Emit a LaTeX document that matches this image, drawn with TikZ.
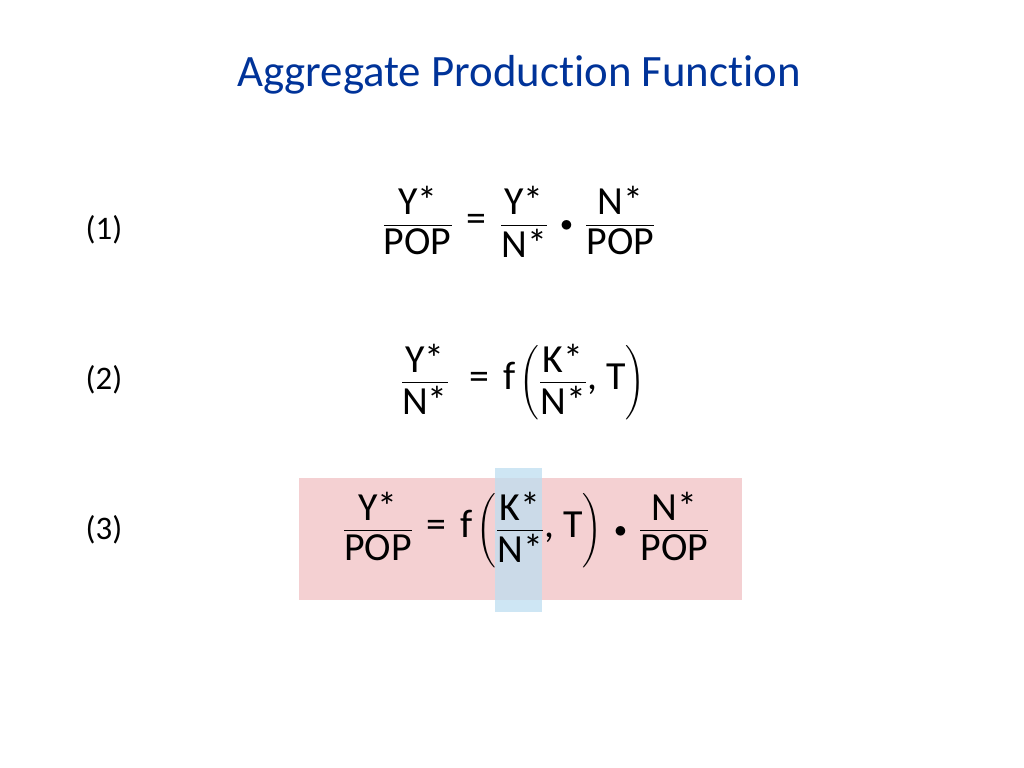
\documentclass[tikz,border=0pt]{standalone}
\usepackage{amsmath}
\usepackage{fontspec}
\setmainfont[Ligatures=NoCommon]{Carlito}
\definecolor{titleblue}{RGB}{0,51,153}
\definecolor{hlpink}{RGB}{244,208,210}
\definecolor{hlblue}{RGB}{190,222,240}
\tikzset{
  eqn/.style={font=\fontsize{40}{46}\selectfont, inner sep=0pt},
  num/.style={font=\fontsize{33}{38}\selectfont, inner sep=0pt}
}
\newcommand\fr[2]{\dfrac{\text{#1}}{\text{#2}}}
\begin{document}
\begin{tikzpicture}[x=1bp,y=-1bp]
  \useasboundingbox (0,0) rectangle (1024,768);
  \node[font=\fontsize{45}{52}\selectfont, text=titleblue] (title) at (519,75) {Aggregate Production Function};
  % highlight boxes
  \fill[hlpink] (299,478) rectangle (742,600);
  \fill[hlblue, fill opacity=0.75] (495,468) rectangle (542,612);
  % labels
  \node[num] (l1) at (104,230) {(1)};
  \node[num] (l2) at (104,380) {(2)};
  \node[num] (l3) at (104,530) {(3)};
  % equations
  \node[eqn] (e1) at (519,222) {$\fr{Y*}{POP} \;\;\text{=}\;\; \fr{Y*}{N*}\;\bullet\;\fr{N*}{POP}$};
  \node[eqn] (e2) at (523,382) {$\fr{Y*}{N*} \;\;\;\text{=}\;\; \text{f}\left(\fr{K*}{N*}\text{, T}\right)$};
  \node[eqn] (e3) at (526,530) {$\fr{Y*}{POP} \;\;\text{=}\;\; \text{f}\left(\fr{K*}{N*}\text{, T}\right)\;\bullet\;\fr{N*}{POP}$};
\end{tikzpicture}
\end{document}
